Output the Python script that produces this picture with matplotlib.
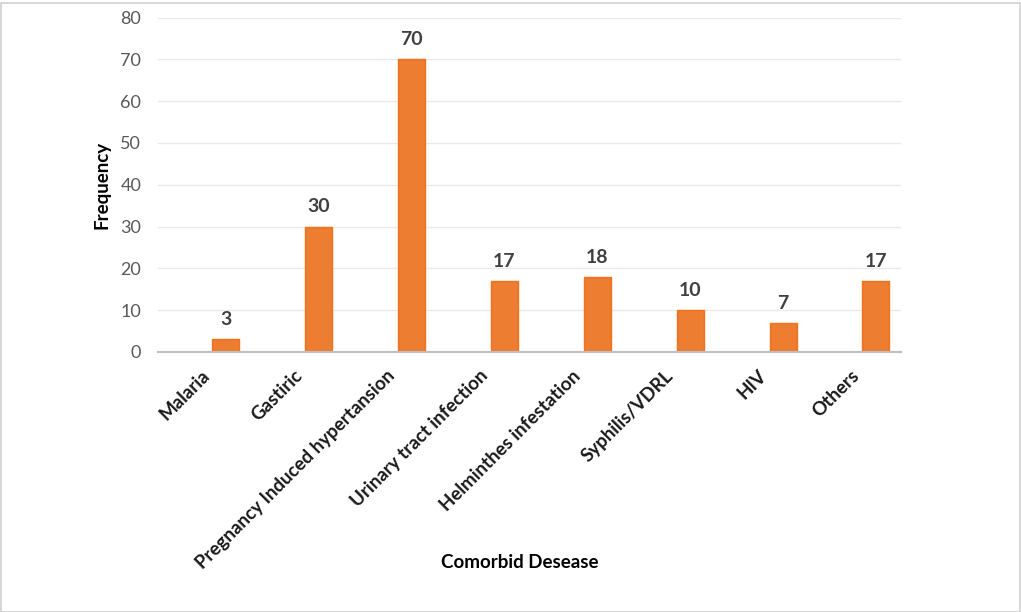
import matplotlib
matplotlib.use("Agg")
import matplotlib.pyplot as plt
import matplotlib.transforms as mtransforms
import numpy as np
from matplotlib.patches import Rectangle

categories = ["Malaria", "Gastiric", "Pregnancy Induced hypertansion", "Urinary tract infection",
              "Helminthes infestation", "Syphilis/VDRL", "HIV", "Others"]
values = [3, 30, 70, 17, 18, 10, 7, 17]
yticks = [0, 10, 20, 30, 40, 50, 60, 70, 80]

plt.rcParams['font.family'] = ['Lato', 'DejaVu Sans']

fig = plt.figure(figsize=(10.21, 6.12), dpi=100)
ax = fig.add_axes([158/1021, 1-352/612, (901-158)/1021, (352-17.5)/612])

x = np.arange(len(categories))
ax.bar(x + 0.23, values, width=0.29, color="#ED7D31", edgecolor="#F2721C", linewidth=1.0, zorder=3)
for xi, v in zip(x, values):
    ax.annotate(str(v), (xi + 0.23, v), xytext=(0, 8), textcoords="offset points",
                ha="center", va="bottom", fontsize=14, fontweight="bold", color="#404040")

ax.set_xlim(-0.5, len(categories) - 0.5)
ax.set_ylim(0, 80)
ax.set_yticks(yticks)
ax.set_yticklabels([str(t) for t in yticks], fontsize=13, color="#595959")
ax.set_xticks(x)
ax.set_xticklabels(categories, rotation=45, ha="right", rotation_mode="anchor",
                   fontsize=13.5, fontweight="bold", color="#1a1a1a")
ax.tick_params(axis="both", length=0)
ax.tick_params(axis="x", pad=11)
ax.tick_params(axis="y", pad=12)
shift = mtransforms.ScaledTranslation(-4/100, 0, fig.dpi_scale_trans)
for lbl in ax.get_xticklabels():
    lbl.set_transform(lbl.get_transform() + shift)
ax.grid(axis="y", color="#E9E9E9", linewidth=1.0, zorder=0)
for s in ["top", "right", "left"]:
    ax.spines[s].set_visible(False)
ax.spines["bottom"].set_color("#BFBFBF")
ax.spines["bottom"].set_linewidth(1.5)
ax.spines["bottom"].set_zorder(4)

fig.text(102/1021, 1-185/612, "Frequency", rotation=90, ha="center", va="center",
         fontsize=13.5, fontweight="bold", color="#000000")
fig.text(520/1021, 1-563/612, "Comorbid Desease", ha="center", va="center",
         fontsize=13.5, fontweight="bold", color="#000000")

fig.patches.append(Rectangle((0.5/1021, 0.5/612), 1019/1021, 609/612, transform=fig.transFigure,
                             fill=False, edgecolor="#D0D0D0", linewidth=1.2))

fig.savefig("out.png", dpi=100)
